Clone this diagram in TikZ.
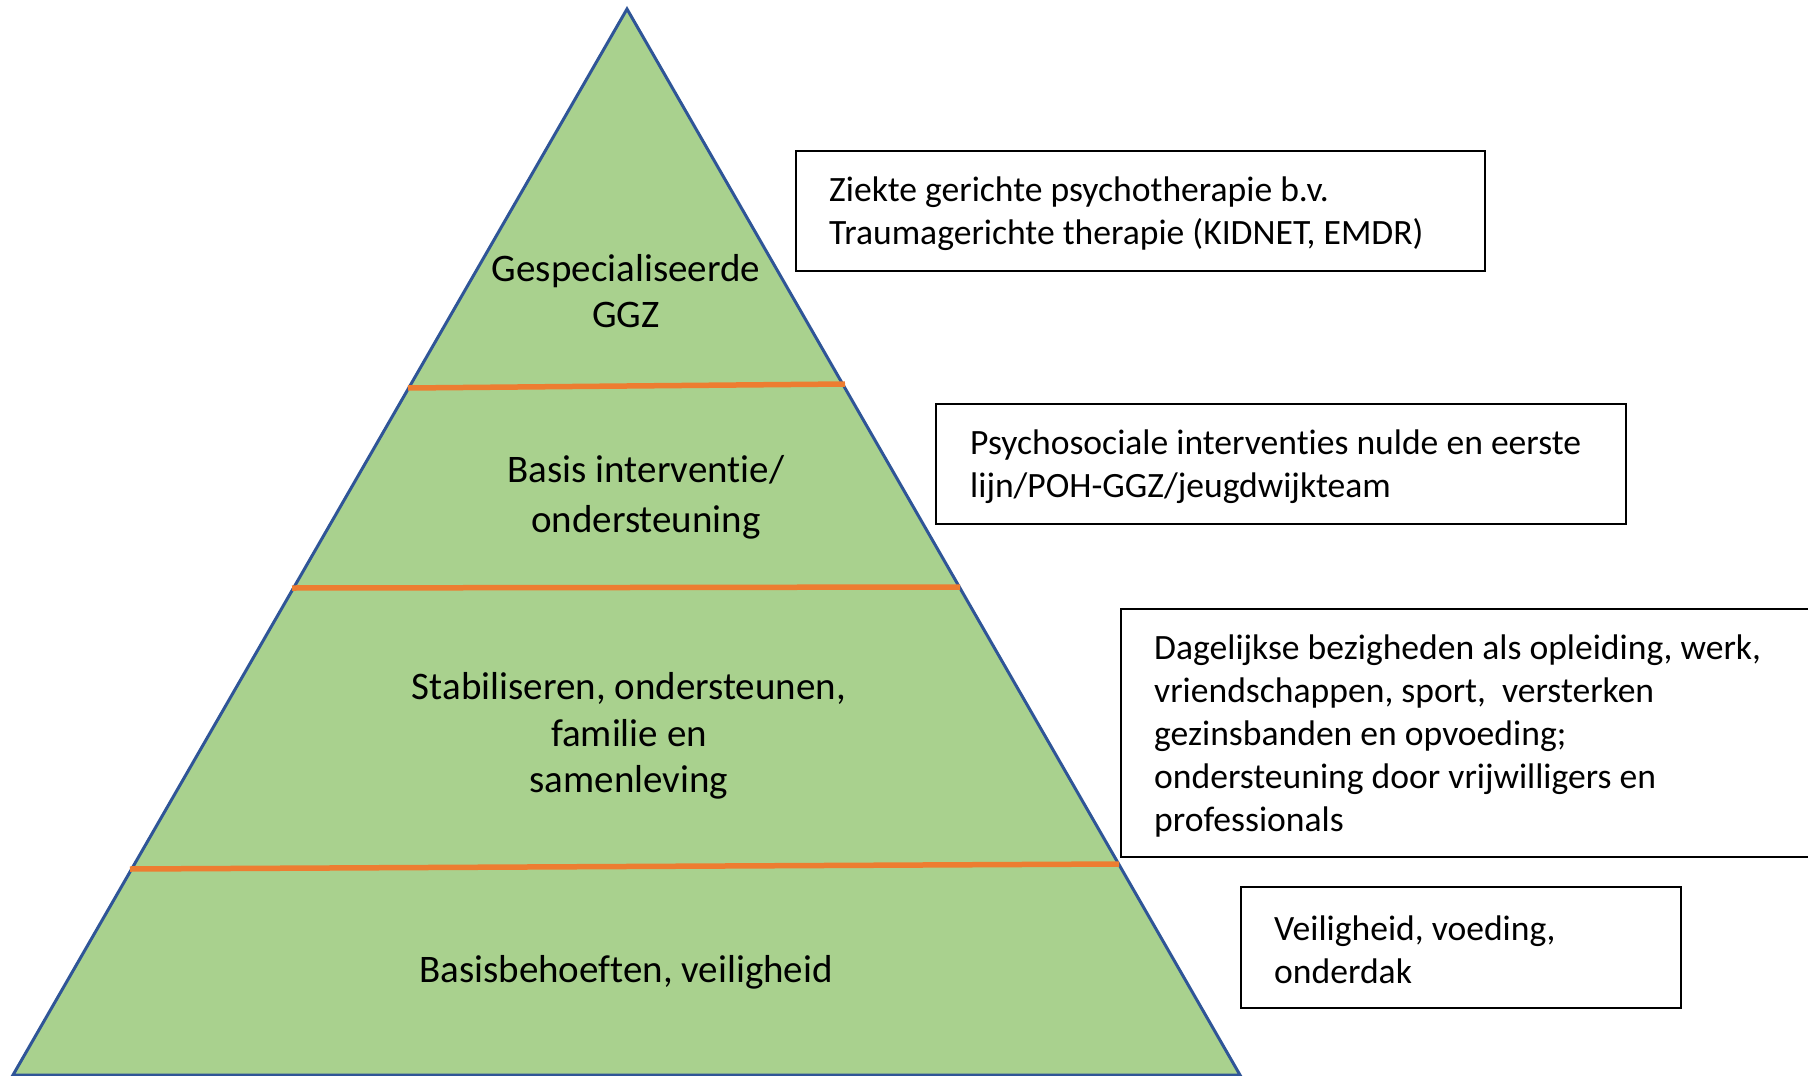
\documentclass[tikz,border=0pt]{standalone}
\usepackage{fontspec}
\setmainfont[Ligatures={NoCommon,NoContextual}]{Carlito}
\definecolor{pyrgreen}{HTML}{A9D18E}
\definecolor{pyredge}{HTML}{2F5597}
\definecolor{pyrorange}{HTML}{ED7D31}
\begin{document}
\begin{tikzpicture}[x=1pt,y=-1pt,
  layer/.style={font=\fontsize{39}{46.5}\selectfont, align=center, inner sep=0pt},
  infobox/.style={draw=black, line width=2pt, fill=white, inner sep=0pt},
  infotext/.style={font=\fontsize{35.6}{43}\selectfont, align=left, anchor=west, inner sep=0pt},
  divider/.style={draw=pyrorange, line width=5.5pt}]
\useasboundingbox (0,0) rectangle (1808,1076);
% pyramid
\coordinate (apex) at (627,9);
\coordinate (bl) at (13,1075);
\coordinate (br) at (1240,1075);
\filldraw[fill=pyrgreen, draw=pyredge, line width=3pt, line join=miter] (apex) -- (br) -- (bl) -- cycle;
% dividers
\coordinate (d1l) at (408,388); \coordinate (d1r) at (845,384);
\coordinate (d2l) at (292,588); \coordinate (d2r) at (960,587);
\coordinate (d3l) at (130,869); \coordinate (d3r) at (1119,864);
\draw[divider] (d1l) -- (d1r);
\draw[divider] (d2l) -- (d2r);
\draw[divider] (d3l) -- (d3r);
% layer labels
\node[layer] (l1) at (626,291) {Gespecialiseerde\\GGZ};
\node[layer, font=\fontsize{39}{50}\selectfont] (l2) at (646,497) {Basis interventie/\\ondersteuning};
\node[layer] (l3) at (629,736) {Stabiliseren, ondersteunen,\\familie en\\samenleving};
\node[layer] (l4) at (626,972) {Basisbehoeften, veiligheid};
% boxes
\node[infobox, minimum width=689pt, minimum height=120pt] (b1) at (1140.5,211) {};
\node[infotext] (t1) at ([xshift=34pt,yshift=-3pt]b1.west) {Ziekte gerichte psychotherapie b.v.\\Traumagerichte therapie (KIDNET, EMDR)};
\node[infobox, minimum width=690pt, minimum height=120pt] (b2) at (1281,464) {};
\node[infotext] (t2) at ([xshift=35pt,yshift=-3pt]b2.west) {Psychosociale interventies nulde en eerste\\lijn/POH-GGZ/jeugdwijkteam};
\node[infobox, minimum width=700pt, minimum height=248pt] (b3) at (1471,733) {};
\node[infotext] (t3) at ([xshift=34pt,yshift=-3pt]b3.west) {Dagelijkse bezigheden als opleiding, werk,\\vriendschappen, sport,\ \ versterken\\gezinsbanden en opvoeding;\\ondersteuning door vrijwilligers en\\professionals};
\node[infobox, minimum width=440pt, minimum height=121pt] (b4) at (1461,947.5) {};
\node[infotext] (t4) at ([xshift=34pt,yshift=-2pt]b4.west) {Veiligheid, voeding,\\onderdak};
\end{tikzpicture}
\end{document}
